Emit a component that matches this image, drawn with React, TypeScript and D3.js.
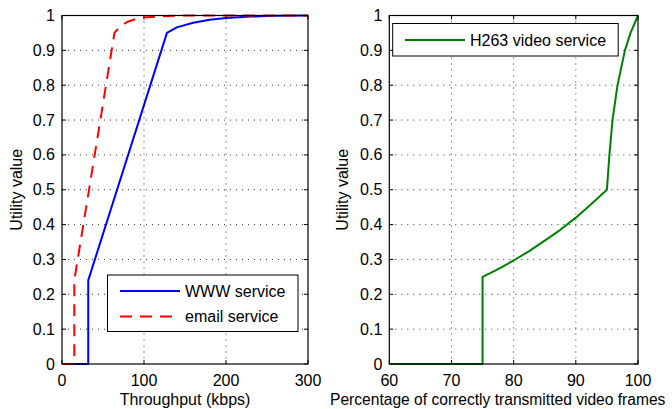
import React from "react";
import * as d3 from "d3";

const wwwX = [0, 32, 32, 128, 140, 160, 180, 200, 230, 260, 300];
const wwwY = [0, 0, 0.24, 0.95, 0.966, 0.979, 0.988, 0.993, 0.997, 0.999, 1];
const emailX = [0, 15, 15, 64, 70, 80, 90, 100, 120, 150, 300];
const emailY = [0, 0, 0.24, 0.95, 0.967, 0.982, 0.99, 0.994, 0.998, 1, 1];
const videoX = [60, 75, 75, 77.5, 80, 82.5, 85, 87.5, 90, 92.5, 95, 95.4, 95.9, 96.7, 97.9, 98.8, 100];
const videoY = [0, 0, 0.25, 0.272, 0.297, 0.324, 0.354, 0.385, 0.42, 0.459, 0.5, 0.6, 0.7, 0.8, 0.9, 0.95, 1];
const yTicks = [0, 0.1, 0.2, 0.3, 0.4, 0.5, 0.6, 0.7, 0.8, 0.9, 1];
const leftXTicks = [0, 100, 200, 300];
const rightXTicks = [60, 70, 80, 90, 100];

const FONT = "'Liberation Sans', Arial, Helvetica, sans-serif";
const FS = 16;

type Series = { xs: number[]; ys: number[]; color: string; dash?: string };

function Panel({
  x0, x1, domain, xTicks, series, xLabel, xLabelX, xLabelAnchor, xLabelSize, yLabelX,
}: {
  x0: number; x1: number; domain: [number, number]; xTicks: number[];
  series: Series[]; xLabel: string; xLabelX: number; xLabelAnchor: string; xLabelSize: number; yLabelX: number;
}) {
  const top = 15.5, bottom = 364;
  const x = d3.scaleLinear().domain(domain).range([x0, x1]);
  const y = d3.scaleLinear().domain([0, 1]).range([bottom, top]);
  const line = (xs: number[], ys: number[]) =>
    d3.line<number>().x((_, i) => x(xs[i])).y((_, i) => y(ys[i]))(xs) || "";
  const tl = 4;
  return (
    <g fontFamily={FONT} fontSize={FS} fill="#000">
      <rect x={x0} y={top} width={x1 - x0} height={bottom - top} fill="#fff" />
      {yTicks.slice(1, -1).map((t) => (
        <line key={"gy" + t} x1={x0} x2={x1} y1={y(t)} y2={y(t)} stroke="#333" strokeWidth={1} strokeDasharray="1,5" />
      ))}
      {xTicks.slice(1, -1).map((t) => (
        <line key={"gx" + t} x1={x(t)} x2={x(t)} y1={top} y2={bottom} stroke="#333" strokeWidth={1} strokeDasharray="1,5" />
      ))}
      {yTicks.map((t) => (
        <g key={"ty" + t}>
          <line x1={x0} x2={x0 + tl} y1={y(t)} y2={y(t)} stroke="#000" />
          <line x1={x1} x2={x1 - tl} y1={y(t)} y2={y(t)} stroke="#000" />
          <text x={x0 - 7} y={y(t) + 5.5} textAnchor="end">{String(t)}</text>
        </g>
      ))}
      {xTicks.map((t) => (
        <g key={"tx" + t}>
          <line x1={x(t)} x2={x(t)} y1={bottom} y2={bottom - tl} stroke="#000" />
          <line x1={x(t)} x2={x(t)} y1={top} y2={top + tl} stroke="#000" />
          <text x={x(t)} y={386} textAnchor="middle">{String(t)}</text>
        </g>
      ))}
      {series.map((s, i) => (
        <path key={i} d={line(s.xs, s.ys)} fill="none" stroke={s.color} strokeWidth={2} strokeDasharray={s.dash} strokeLinejoin="round" />
      ))}
      <rect x={x0} y={top} width={x1 - x0} height={bottom - top} fill="none" stroke="#000" strokeWidth={1.2} />
      <text x={xLabelX} y={405} textAnchor={xLabelAnchor} fontSize={xLabelSize}>{xLabel}</text>
      <text transform={`translate(${yLabelX},${(top + bottom) / 2}) rotate(-90)`} textAnchor="middle">Utility value</text>
    </g>
  );
}

export default function App() {
  return (
    <svg width={672} height={409} style={{ position: "absolute", left: 0, top: 0, background: "#fff" }}>
      <rect width={672} height={409} fill="#fff" />
      <Panel
        x0={62} x1={308} domain={[0, 300]} xTicks={leftXTicks}
        series={[
          { xs: wwwX, ys: wwwY, color: "#0000ff" },
          { xs: emailX, ys: emailY, color: "#ff0000", dash: "12,8" },
        ]}
        xLabel="Throughput (kbps)" xLabelX={185} xLabelAnchor="middle" xLabelSize={16} yLabelX={22}
      />
      <Panel
        x0={389.3} x1={638} domain={[60, 100]} xTicks={rightXTicks}
        series={[{ xs: videoX, ys: videoY, color: "#008000" }]}
        xLabel="Percentage of correctly transmitted video frames" xLabelX={330} xLabelAnchor="start" xLabelSize={15.6} yLabelX={348}
      />
      <g fontFamily={FONT} fontSize={FS}>
        <rect x={107.5} y={275} width={190.5} height={56.5} fill="#fff" stroke="#000" strokeWidth={1} />
        <line x1={120} x2={180} y1={291} y2={291} stroke="#0000ff" strokeWidth={2} />
        <text x={185} y={296.5}>WWW service</text>
        <line x1={120} x2={180} y1={316.5} y2={316.5} stroke="#ff0000" strokeWidth={2} strokeDasharray="12,8" />
        <text x={185} y={322}>email service</text>
      </g>
      <g fontFamily={FONT} fontSize={FS}>
        <rect x={392.7} y={23.5} width={225.5} height={32.5} fill="#fff" stroke="#000" strokeWidth={1} />
        <line x1={405} x2={465} y1={40} y2={40} stroke="#008000" strokeWidth={2} />
        <text x={470} y={45.5}>H263 video service</text>
      </g>
    </svg>
  );
}
